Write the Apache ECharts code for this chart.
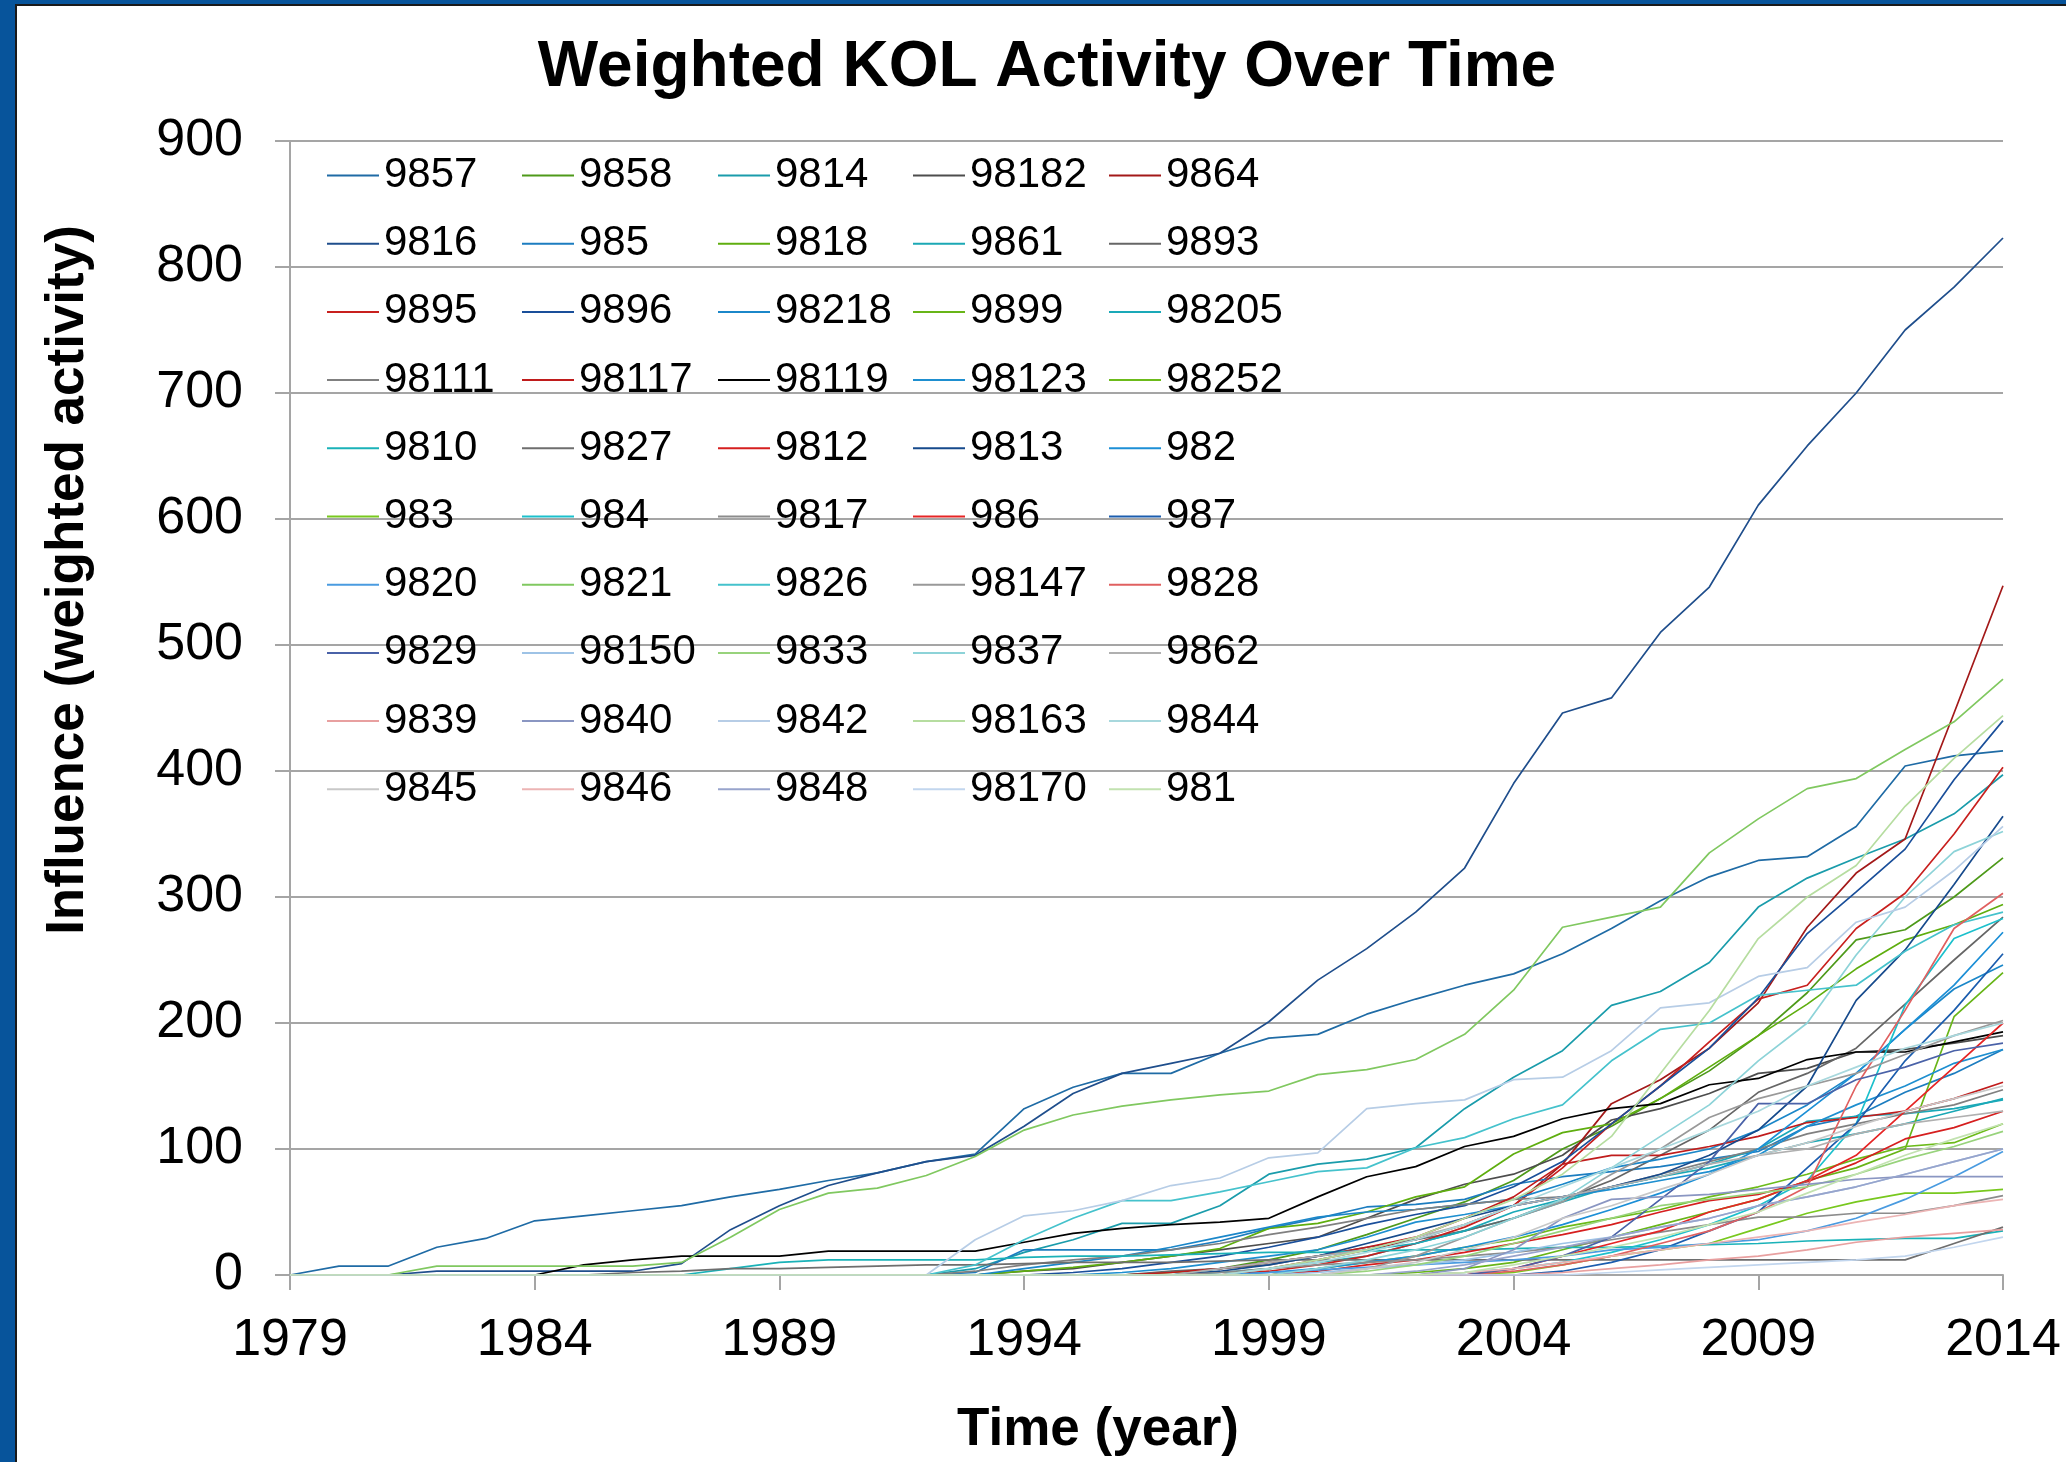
<!DOCTYPE html>
<html><head><meta charset="utf-8">
<script src="https://cdn.jsdelivr.net/npm/echarts@6/dist/echarts.min.js"></script>
<style>html,body{margin:0;padding:0;background:#fff}#c{width:2066px;height:1462px}</style>
</head><body><div id="c"></div>
<script>
const years = ['1979','1980','1981','1982','1983','1984','1985','1986','1987','1988','1989','1990','1991','1992','1993','1994','1995','1996','1997','1998','1999','2000','2001','2002','2003','2004','2005','2006','2007','2008','2009','2010','2011','2012','2013','2014'];
const yTicks = [0,100,200,300,400,500,600,700,800,900];

const s9857  = [0,7,7,22,29,43,47,51,55,62,68,75,81,90,96,132,149,160,160,176,188,191,207,219,230,239,255,275,297,316,329,332,356,404,412,416];
const s9858  = [0,0,0,0,0,0,0,0,0,0,0,0,0,0,0,0,0,0,2,5,12,20,32,45,58,75,100,118,140,162,190,224,266,274,300,331];
const s9814  = [0,0,0,0,0,0,0,0,0,0,0,0,0,0,5,18,28,41,41,55,80,88,92,101,132,157,178,214,225,248,292,315,331,346,366,397];
const s98182 = [0,0,0,0,0,0,0,0,0,0,0,0,0,0,0,3,5,10,15,20,25,30,45,60,72,80,95,123,132,144,160,164,177,179,184,190];
const s9864  = [0,0,0,0,0,0,0,0,0,0,0,0,0,0,0,0,0,0,0,0,5,12,20,28,40,55,88,136,155,180,216,276,319,346,446,547];
const s9816  = [0,0,0,3,3,3,3,3,9,36,55,71,81,90,95,118,144,160,168,176,201,234,259,288,323,390,446,458,510,546,611,658,700,750,784,823];
const s985   = [0,0,0,0,0,0,0,0,0,0,0,0,0,0,2,20,20,20,20,27,37,45,54,56,60,72,78,82,86,92,98,118,126,145,160,179];
const s9818  = [0,0,0,0,0,0,0,0,0,0,0,0,0,0,0,3,6,10,15,21,37,41,50,62,70,96,113,120,140,165,190,215,243,266,278,294];
const s9861  = [0,0,0,0,0,0,0,0,0,0,0,0,0,0,0,0,0,0,0,2,5,10,15,25,35,45,58,70,78,85,95,105,112,120,130,140];
const s9893  = [0,0,0,0,0,0,0,0,0,0,0,0,0,0,0,0,0,0,3,5,8,15,22,28,35,45,60,75,95,115,145,160,180,215,250,284];
const s9895  = [0,0,0,0,0,0,0,0,0,0,0,0,0,0,0,0,0,0,0,0,3,8,15,25,38,55,85,120,150,185,219,230,275,303,350,403];
const s9896  = [0,0,0,0,0,0,0,0,0,0,0,0,0,0,0,0,2,5,10,15,22,30,40,48,55,70,90,120,150,180,220,271,304,338,393,440];
const s98218 = [0,0,0,0,0,0,0,0,0,0,0,0,0,0,0,5,10,15,22,30,38,46,50,52,56,60,72,85,92,100,115,135,160,195,227,246];
const s9899  = [0,0,0,0,0,0,0,0,0,0,0,0,0,0,0,0,0,0,0,0,0,0,0,2,5,10,20,30,40,50,60,75,85,100,205,240];
const s98205 = [0,0,0,0,0,0,0,0,0,0,0,0,0,0,0,0,0,0,0,5,10,15,20,25,35,50,60,70,78,88,100,122,126,128,132,139];
const s98111 = [0,0,0,0,0,0,0,0,0,0,0,0,0,0,3,8,12,15,20,25,32,38,45,52,56,60,62,70,80,90,100,112,120,128,135,147];
const s98117 = [0,0,0,0,0,0,0,0,0,0,0,0,0,0,0,0,0,0,2,5,10,15,22,30,45,62,88,95,95,102,110,121,125,130,140,153];
const s98119 = [0,0,0,0,0,0,8,12,15,15,15,19,19,19,19,26,33,37,40,42,45,62,78,86,102,110,124,132,136,151,156,171,177,177,185,193];
const s98123 = [0,0,0,0,0,0,0,0,0,0,0,0,0,0,0,0,0,2,5,10,15,20,30,42,48,55,62,68,75,82,95,118,135,150,168,179];
const s98252 = [0,0,0,0,0,0,0,0,0,0,0,0,0,0,0,0,0,0,0,0,0,5,10,15,22,28,38,45,52,62,70,80,92,102,105,120];
const s9810  = [0,0,0,0,0,0,0,0,0,5,10,12,12,12,12,14,15,15,16,17,18,18,19,20,20,21,22,22,23,24,25,27,28,29,29,35];
const s9827  = [0,0,0,0,0,0,0,2,3,5,5,6,7,8,8,9,10,10,10,11,12,12,12,12,12,12,12,12,12,12,12,12,12,12,25,38];
const s9812  = [0,0,0,0,0,0,0,0,0,0,0,0,0,0,0,0,0,0,0,0,0,3,8,12,18,25,32,40,50,59,64,74,89,108,117,130];
const s9813  = [0,0,0,0,0,0,0,0,0,0,0,0,0,0,0,0,0,0,0,3,8,15,25,35,45,55,62,70,80,95,115,150,218,258,310,364];
const s982   = [0,0,0,0,0,0,0,0,0,0,0,0,0,0,0,0,0,0,0,0,2,5,10,15,22,30,40,52,65,80,100,130,160,195,230,272];
const s983   = [0,0,0,0,0,0,0,0,0,0,0,0,0,0,0,0,0,0,0,0,0,0,0,0,0,2,8,15,20,25,37,49,58,65,65,68];
const s984   = [0,0,0,0,0,0,0,0,0,0,0,0,0,0,0,0,0,0,0,0,0,0,0,0,2,5,10,18,28,40,55,75,120,214,267,283];
const s9817  = [0,0,0,0,0,0,0,0,0,0,0,0,0,0,0,0,0,0,0,2,5,8,10,12,15,18,22,28,34,40,46,46,49,49,55,63];
const s986   = [0,0,0,0,0,0,0,0,0,0,0,0,0,0,0,0,0,0,0,0,0,0,0,0,0,5,15,25,35,50,60,75,95,130,165,200];
const s987   = [0,0,0,0,0,0,0,0,0,0,0,0,0,0,0,0,0,0,0,0,0,0,0,0,0,0,3,10,20,35,50,85,120,170,210,255];
const s9820  = [0,0,0,0,0,0,0,0,0,0,0,0,0,0,0,0,0,0,0,0,2,4,6,8,10,12,15,20,22,25,28,35,45,60,78,98];
const s9821  = [0,0,0,7,7,7,7,7,10,30,52,65,69,79,94,115,127,134,139,143,146,159,163,171,191,226,276,284,292,335,362,386,394,417,439,473];
const s9826  = [0,0,0,0,0,0,0,0,0,0,0,0,0,0,8,28,45,59,59,66,74,82,85,101,109,124,135,170,195,200,222,226,230,257,278,288];
const s98147 = [0,0,0,0,0,0,0,0,0,0,0,0,0,0,0,0,0,0,0,0,0,0,5,15,30,45,58,80,100,125,140,150,160,175,190,202];
const s9828  = [0,0,0,0,0,0,0,0,0,0,0,0,0,0,0,0,0,0,0,0,0,0,0,0,0,3,8,15,25,35,50,70,150,210,275,303];
const s9829  = [0,0,0,0,0,0,0,0,0,0,0,0,0,0,0,0,0,0,0,0,0,0,0,0,0,5,15,30,60,90,136,136,155,165,178,184];
const s98150 = [0,0,0,0,0,0,0,0,0,0,0,0,0,0,0,0,0,0,0,0,0,2,5,8,12,18,25,30,38,45,55,62,70,80,90,100];
const s9833  = [0,0,0,0,0,0,0,0,0,0,0,0,0,0,0,0,0,0,0,0,0,0,3,8,15,25,35,45,55,60,65,70,80,92,102,114];
const s9837  = [0,0,0,0,0,0,0,0,0,0,0,0,0,0,0,0,0,0,0,0,0,5,12,20,30,45,60,85,110,135,170,200,254,300,336,352];
const s9862  = [0,0,0,0,0,0,0,0,0,0,0,0,0,0,0,0,0,0,0,5,10,15,20,30,40,55,62,70,78,88,95,100,112,120,125,130];
const s9839  = [0,0,0,0,0,0,0,0,0,0,0,0,0,0,0,0,0,0,0,0,0,0,0,0,0,0,2,5,8,12,15,20,26,30,33,36];
const s9840  = [0,0,0,0,0,0,0,0,0,0,0,0,0,0,0,0,0,0,0,0,0,0,0,0,5,20,45,60,62,64,68,72,76,78,78,78];
const s9842  = [0,0,0,0,0,0,0,0,0,0,0,0,0,0,28,47,51,59,71,77,93,97,132,136,139,155,157,178,212,216,237,244,280,292,321,356];
const s98163 = [0,0,0,0,0,0,0,0,0,0,0,0,0,0,0,0,0,0,0,0,5,12,20,30,45,60,80,110,160,210,267,300,325,372,410,444];
const s9844  = [0,0,0,0,0,0,0,0,0,0,0,0,0,0,0,0,0,0,0,0,5,10,18,28,40,55,70,85,100,115,130,150,165,180,190,200];
const s9845  = [0,0,0,0,0,0,0,0,0,0,0,0,0,0,0,0,0,0,0,0,0,0,5,10,20,30,45,55,68,80,95,105,118,130,140,150];
const s9846  = [0,0,0,0,0,0,0,0,0,0,0,0,0,0,0,0,0,0,0,0,0,0,0,0,2,5,10,15,20,25,30,35,42,48,55,60];
const s9848  = [0,0,0,0,0,0,0,0,0,0,0,0,0,0,0,0,0,0,0,0,0,0,0,3,8,15,22,30,38,45,55,62,70,80,90,100];
const s98170 = [0,0,0,0,0,0,0,0,0,0,0,0,0,0,0,0,0,0,0,0,0,0,0,0,0,0,0,2,4,6,8,10,12,15,22,30];
const s981   = [0,0,0,0,0,0,0,0,0,0,0,0,0,0,0,0,0,0,0,0,0,0,0,0,2,8,15,22,30,40,50,65,80,95,108,120];

const names = ['9857','9858','9814','98182','9864','9816','985','9818','9861','9893','9895','9896','98218','9899','98205','98111','98117','98119','98123','98252','9810','9827','9812','9813','982','983','984','9817','986','987','9820','9821','9826','98147','9828','9829','98150','9833','9837','9862','9839','9840','9842','98163','9844','9845','9846','9848','98170','981'];
const values = [s9857,s9858,s9814,s98182,s9864,s9816,s985,s9818,s9861,s9893,s9895,s9896,s98218,s9899,s98205,s98111,s98117,s98119,s98123,s98252,s9810,s9827,s9812,s9813,s982,s983,s984,s9817,s986,s987,s9820,s9821,s9826,s98147,s9828,s9829,s98150,s9833,s9837,s9862,s9839,s9840,s9842,s98163,s9844,s9845,s9846,s9848,s98170,s981];
const colors = ['#1F6BA5','#4E9A1A','#1A9CAB','#4D4D4D','#A31919','#1F4E8C','#1C7DC0','#5FAE0F','#1BA8B5','#666666','#C8201E','#1A4F9A','#1B87C9','#68B518','#1AA9B8','#808080','#C01C1C','#000000','#1E8FD0','#6CBB1A','#1AB2B8','#6E6E6E','#D61F1F','#164A8C','#1C8FD6','#78C81E','#1CC0CC','#8C8C8C','#E52525','#1B5DAE','#4A9BE0','#80C860','#45C2CC','#999999','#E06060','#4A62A8','#9EC3E6','#98D37C','#8DD3D8','#B0B0B0','#E8A0A0','#8A96C2','#B7CDE6','#B6DDA0','#A8D8DD','#C8C8C8','#ECB4B4','#98A4CC','#C2D6EE','#C2E2B0'];

const FONT = "'Liberation Sans', Arial, sans-serif";
const legendLefts = [327, 522, 718, 913, 1109];

const chart = echarts.init(document.getElementById('c'), null, {renderer: 'canvas'});
const legends = legendLefts.map((lx, c) => ({
  orient: 'vertical', left: lx, top: 154.5, padding: 0,
  itemGap: 26.2, itemWidth: 52, itemHeight: 2, icon: 'rect',
  selectedMode: false,
  textStyle: {fontSize: 42, lineHeight: 42, color: '#000', fontFamily: FONT},
  data: names.filter((_, i) => i % 5 === c)
}));

chart.setOption({
  animation: false,
  backgroundColor: '#ffffff',
  grid: {left: 290, top: 141, width: 1713, height: 1134, containLabel: false},
  legend: legends,
  xAxis: {
    type: 'category', data: years, boundaryGap: false,
    axisLine: {show: true, lineStyle: {color: '#a5a5a5', width: 2}},
    axisTick: {show: true, interval: 4, length: 15, inside: false, lineStyle: {color: '#a5a5a5', width: 2}},
    axisLabel: {interval: 4, fontSize: 52, color: '#000', fontFamily: FONT, margin: 40},
    splitLine: {show: false}
  },
  yAxis: {
    type: 'value', min: yTicks[0], max: yTicks[yTicks.length - 1], interval: 100,
    axisLine: {show: true, lineStyle: {color: '#a5a5a5', width: 2}},
    axisTick: {show: true, length: 15, lineStyle: {color: '#a5a5a5', width: 2}},
    axisLabel: {fontSize: 52, color: '#000', fontFamily: FONT, margin: 47, padding: [9, 0, 0, 0]},
    splitLine: {show: true, lineStyle: {color: '#a5a5a5', width: 2}}
  },
  series: names.map((n, i) => ({
    name: n, type: 'line', data: values[i], symbol: 'none', showSymbol: false,
    color: colors[i], itemStyle: {color: colors[i]},
    lineStyle: {color: colors[i], width: 1.7}, emphasis: {disabled: true}
  })),
  graphic: [
    {type: 'rect', shape: {x: 0, y: 0, width: 15, height: 1462}, style: {fill: '#07549B'}, z: 100},
    {type: 'rect', shape: {x: 0, y: 0, width: 2066, height: 4}, style: {fill: '#07549B'}, z: 100},
    {type: 'rect', shape: {x: 15, y: 4, width: 2, height: 1458}, style: {fill: '#1a1a1a'}, z: 100},
    {type: 'rect', shape: {x: 15, y: 4, width: 2051, height: 2}, style: {fill: '#1a1a1a'}, z: 100},
    {type: 'text', x: 1047, y: 68, style: {text: 'Weighted KOL Activity Over Time', fontSize: 64, fontWeight: 'bold', fontFamily: FONT, fill: '#000', align: 'center', verticalAlign: 'middle'}},
    {type: 'text', x: 68, y: 580, rotation: Math.PI / 2, style: {text: 'Influence (weighted activity)', fontSize: 53, fontWeight: 'bold', fontFamily: FONT, fill: '#000', align: 'center', verticalAlign: 'middle'}},
    {type: 'text', x: 1098, y: 1430, style: {text: 'Time (year)', fontSize: 53, fontWeight: 'bold', fontFamily: FONT, fill: '#000', align: 'center', verticalAlign: 'middle'}}
  ]
});
</script>
</body></html>
